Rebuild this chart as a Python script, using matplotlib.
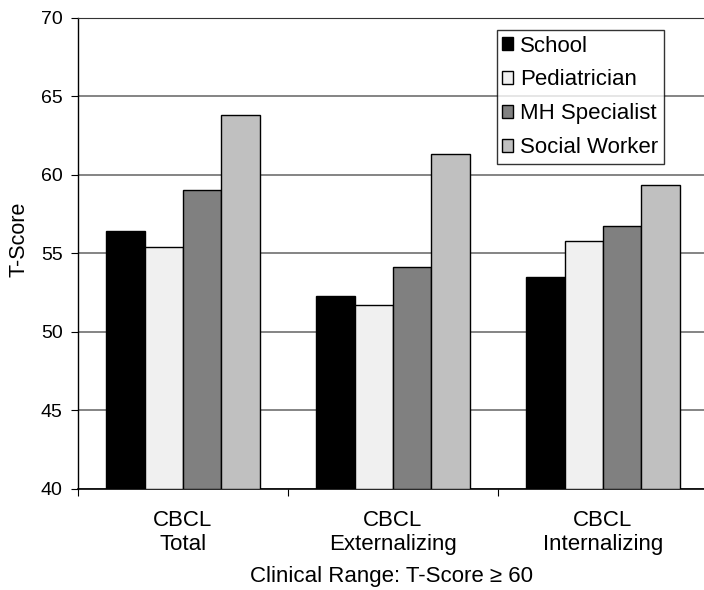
import numpy as np
import matplotlib
matplotlib.use('Agg')
import matplotlib.pyplot as plt

plt.rcParams['font.family'] = ['Liberation Sans', 'DejaVu Sans']

# Data
categories = ['CBCL\nTotal', 'CBCL\nExternalizing', 'CBCL\nInternalizing']
series = ['School', 'Pediatrician', 'MH Specialist', 'Social Worker']
school = [56.45, 52.3, 53.5]
pediatrician = [55.4, 51.7, 55.8]
mh_specialist = [59.05, 54.1, 56.75]
social_worker = [63.8, 61.3, 59.35]
values = [school, pediatrician, mh_specialist, social_worker]
colors = ['#000000', '#f0f0f0', '#808080', '#c0c0c0']

fig = plt.figure(figsize=(7.04, 5.90), dpi=100)
ax = fig.add_axes([78 / 704, 101 / 590, 626 / 704, 471.3 / 590])

x = np.arange(len(categories))
width = 0.183
for i, (name, vals) in enumerate(zip(series, values)):
    ax.bar(x + (i - 1.5) * width, np.array(vals) - 40, width, bottom=40,
           color=colors[i], edgecolor='black', linewidth=1.0, label=name, zorder=3)

ax.set_ylim(40, 70)
ax.set_xlim(-0.5, -0.5 + 626 / 210)
ax.set_yticks(range(40, 71, 5))
ax.yaxis.grid(True, color='#707070', linewidth=1.2, zorder=0)
ax.set_axisbelow(True)

# category boundaries get ticks, centres get labels
ax.set_xticks([-0.5, 0.5, 1.5])
ax.set_xticklabels([])
ax.set_xticks(x, minor=True)
ax.set_xticklabels(categories, minor=True, fontsize=16, linespacing=1.2)
ax.tick_params(axis='x', which='major', length=5, direction='out')
ax.tick_params(axis='x', which='minor', length=0, pad=15)
ax.tick_params(axis='y', length=5, direction='out', labelsize=14, pad=6)

ax.spines['right'].set_visible(False)
ax.spines['top'].set_color('#333333')
ax.spines['left'].set_linewidth(1.0)
ax.spines['bottom'].set_linewidth(1.2)

ax.set_ylabel('T-Score', fontsize=15.5)
ax.yaxis.set_label_coords(-0.078, 0.53)
ax.set_xlabel('Clinical Range: T-Score \u2265 60', fontsize=16, labelpad=8)

leg = ax.legend(loc='upper left', bbox_to_anchor=((496.7 - 78) / 626, (489 - 30) / 471.3),
                fontsize=16, frameon=True, fancybox=False, shadow=False,
                handlelength=0.5, handleheight=0.5, handletextpad=0.3,
                labelspacing=0.58, borderpad=0.25, borderaxespad=0)
leg.get_frame().set_edgecolor('black')
leg.get_frame().set_linewidth(1.0)

fig.savefig('out.png', dpi=100)
